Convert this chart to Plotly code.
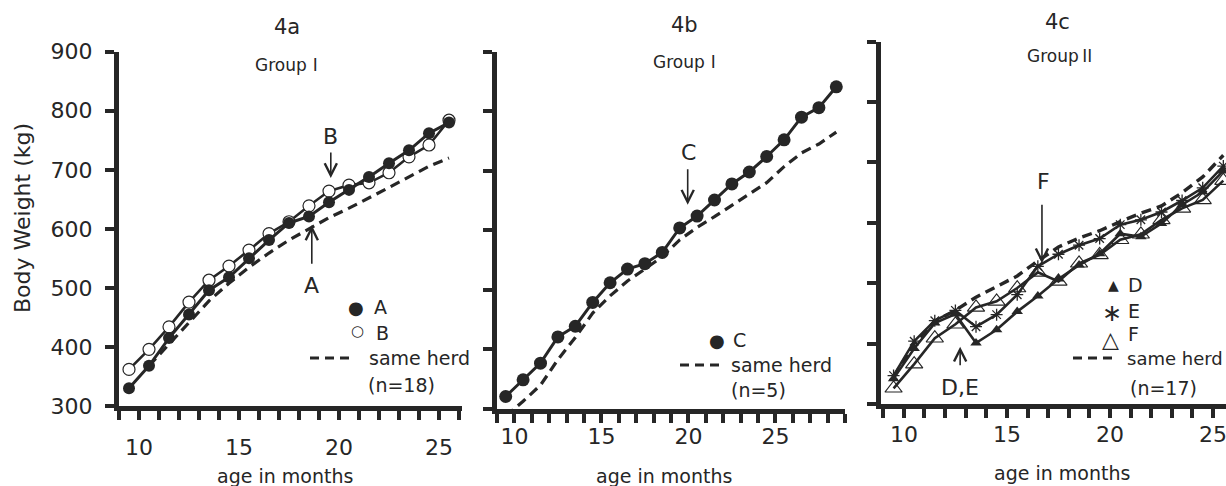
import plotly.graph_objects as go

# ---------------- data ----------------
months_a = [9.5, 10.5, 11.5, 12.5, 13.5, 14.5, 15.5, 16.5, 17.5, 18.5, 19.5, 20.5, 21.5, 22.5, 23.5, 24.5, 25.5]
cow_A = [330, 368, 415, 455, 496, 518, 550, 581, 610, 621, 645, 666, 688, 711, 733, 762, 780]
cow_B = [362, 396, 434, 476, 513, 537, 564, 592, 612, 639, 664, 674, 678, 695, 722, 742, 784]
herd_a_months = [10.5, 11.5, 12.5, 13.5, 14.5, 15.5, 16.5, 17.5, 18.5, 19.5, 20.5, 21.5, 22.5, 23.5, 24.5, 25.5]
herd_a = [368, 405, 443, 478, 508, 535, 559, 581, 600, 619, 635, 652, 670, 688, 706, 720]

months_b = [9.5, 10.5, 11.5, 12.5, 13.5, 14.5, 15.5, 16.5, 17.5, 18.5, 19.5, 20.5, 21.5, 22.5, 23.5, 24.5, 25.5, 26.5, 27.5, 28.5]
cow_C = [321, 349, 377, 421, 439, 479, 512, 535, 544, 563, 604, 624, 651, 678, 698, 724, 752, 790, 806, 841]
herd_b = [288, 313, 340, 383, 420, 461, 490, 515, 535, 556, 584, 605, 623, 642, 660, 680, 707, 730, 745, 765]

months_c = [9.5, 10.5, 11.5, 12.5, 13.5, 14.5, 15.5, 16.5, 17.5, 18.5, 19.5, 20.5, 21.5, 22.5, 23.5, 24.5, 25.5]
cow_D = [342, 392, 434, 449, 401, 423, 453, 479, 507, 530, 549, 582, 577, 599, 630, 651, 686]
cow_E = [347, 404, 438, 455, 428, 448, 481, 528, 548, 563, 574, 597, 605, 618, 637, 658, 694]
cow_F = [326, 366, 409, 432, 460, 470, 492, 518, 503, 533, 547, 572, 581, 605, 624, 638, 670]
herd_c = [345, 400, 437, 455, 477, 494, 512, 537, 560, 575, 587, 602, 616, 628, 650, 676, 712]

y_ticks = [300, 400, 500, 600, 700, 800, 900]
x_label_vals = [10, 15, 20, 25]
ticks_a = list(range(9, 27))
ticks_b = list(range(9, 30))
ticks_c = list(range(9, 26))

# ---------------- style ----------------
INK = "#262626"
FONT = "DejaVu Sans"
W, H = 1226, 486


def px(x):
    return x / W


def py(y):
    return 1 - y / H


def labels_for(vals):
    return [str(v) if v in x_label_vals else "" for v in vals]


fig = go.Figure()

# panel a
fig.add_trace(go.Scatter(x=herd_a_months, y=herd_a, mode="lines", xaxis="x", yaxis="y",
                         line=dict(color=INK, width=3.2, dash="10px,6px"), showlegend=False))
fig.add_trace(go.Scatter(x=months_a, y=cow_B, mode="lines+markers", xaxis="x", yaxis="y",
                         line=dict(color=INK, width=2.6),
                         marker=dict(symbol="circle", size=12, color="white", line=dict(color=INK, width=1.2)),
                         showlegend=False))
fig.add_trace(go.Scatter(x=months_a, y=cow_A, mode="lines+markers", xaxis="x", yaxis="y",
                         line=dict(color=INK, width=3), marker=dict(symbol="circle", size=12, color=INK),
                         showlegend=False))

# panel b
fig.add_trace(go.Scatter(x=months_b, y=herd_b, mode="lines", xaxis="x2", yaxis="y2",
                         line=dict(color=INK, width=3.2, dash="10px,6px"), showlegend=False))
fig.add_trace(go.Scatter(x=months_b, y=cow_C, mode="lines+markers", xaxis="x2", yaxis="y2",
                         line=dict(color=INK, width=3), marker=dict(symbol="circle", size=13, color=INK),
                         showlegend=False))

# panel c
fig.add_trace(go.Scatter(x=months_c, y=herd_c, mode="lines", xaxis="x3", yaxis="y3",
                         line=dict(color=INK, width=3.4, dash="10px,6px"), showlegend=False))
fig.add_trace(go.Scatter(x=months_c, y=cow_F, mode="lines+markers", xaxis="x3", yaxis="y3",
                         line=dict(color=INK, width=2.6),
                         marker=dict(symbol="triangle-up-open", size=15, color=INK, line=dict(width=1.1)),
                         showlegend=False))
fig.add_trace(go.Scatter(x=months_c, y=cow_E, mode="lines+markers", xaxis="x3", yaxis="y3",
                         line=dict(color=INK, width=2.6),
                         marker=dict(symbol="asterisk-open", size=10, color=INK, line=dict(width=1.3, color=INK)),
                         showlegend=False))
fig.add_trace(go.Scatter(x=months_c, y=cow_D, mode="lines+markers", xaxis="x3", yaxis="y3",
                         line=dict(color=INK, width=2.6),
                         marker=dict(symbol="triangle-up", size=10, color=INK),
                         showlegend=False))


def xax(domain, rng, vals, standoff, anchor):
    return dict(domain=domain, range=rng, anchor=anchor, showline=True, linecolor=INK, linewidth=5,
                ticks="outside", ticklen=9, tickwidth=4, tickcolor=INK,
                tickmode="array", tickvals=vals, ticktext=labels_for(vals),
                tickfont=dict(family=FONT, size=22, color=INK), ticklabelstandoff=standoff,
                ticklabeloverflow="allow",
                showgrid=False, zeroline=False, fixedrange=True, automargin=False)


def yax(domain, anchor, show_labels):
    return dict(domain=domain, range=[300, 900], anchor=anchor, showline=True, linecolor=INK, linewidth=5,
                ticks="outside", ticklen=9, tickwidth=4, tickcolor=INK,
                tickmode="array", tickvals=y_ticks, showticklabels=show_labels,
                tickfont=dict(family=FONT, size=22, color=INK), ticklabelstandoff=8,
                showgrid=False, zeroline=False, fixedrange=True, automargin=False)


fig.update_layout(
    width=W, height=H, margin=dict(l=0, r=0, t=0, b=0, autoexpand=False),
    paper_bgcolor="white", plot_bgcolor="white",
    font=dict(family=FONT, color=INK),
    xaxis=xax([px(119), px(462)], [9.0, 26.15], ticks_a, 9, "y"),
    yaxis=yax([py(406), py(51.7)], "x", True),
    xaxis2=xax([px(497), px(845)], [9.0, 29.0], ticks_b, -5, "y2"),
    yaxis2=yax([py(409), py(51.7)], "x2", False),
    xaxis3=xax([px(881), 1.0], [8.89, 25.63], ticks_c, -2, "y3"),
    yaxis3=yax([py(404), py(41.7)], "x3", False),
)

ann = []


def text(x, y, s, size=19, xanchor="center", angle=0):
    ann.append(dict(x=px(x), y=py(y), xref="paper", yref="paper", text=s, showarrow=False,
                    xanchor=xanchor, yanchor="middle", textangle=angle,
                    font=dict(family=FONT, size=size, color=INK)))


def arrow(xr, yr, xv, yv, ay):
    ann.append(dict(x=xv, y=yv, xref=xr, yref=yr, text="", showarrow=True, ax=0, ay=ay,
                    arrowhead=5, arrowsize=1.5, arrowwidth=1.6, arrowcolor=INK, standoff=0))


ROMAN = "<span style='font-family:Noto Sans CJK JP'>{}</span>"

# titles
text(287, 27, "4a", 21)
text(685, 25, "4b", 21)
text(1057, 22, "4c", 21)
text(289, 63, "Group" + ROMAN.format("\u2160"), 17)
text(687, 60, "Group" + ROMAN.format("\u2160"), 17)
text(1061, 55, "Group" + ROMAN.format("\u2161"), 17)

# axis titles
text(22, 218, "Body Weight (kg)", 22, angle=-90)
text(285, 476, "age in months", 19)
text(664, 476, "age in months", 19)
text(1062, 473, "age in months", 19)

# arrows and labels
arrow("x", "y", 19.59, 686, -27)
text(330, 136, "B", 22)
arrow("x", "y", 18.64, 606, 40)
text(311, 285, "A", 22)
arrow("x2", "y2", 19.96, 643, -37)
text(688, 152, "C", 22)
arrow("x3", "y3", 16.7, 533, -60)
text(1043, 182, "F", 22)
arrow("x3", "y3", 12.73, 395, 20)
text(960, 387, "D,E", 22)

# legend a
text(356, 307, "\u25cf", 18)
text(372, 307, "A", 19, "left")
text(357, 331, "\u25cb", 15)
text(374, 333, "B", 19, "left")
text(367, 358, "same herd", 19, "left")
text(366, 385, "(n=18)", 19, "left")
# legend b
text(717, 340, "\u25cf", 18)
text(731, 340, "C", 19, "left")
text(729, 365, "same herd", 19, "left")
text(729, 390, "(n=5)", 19, "left")
# legend c
text(1113, 285, "\u25b2", 14)
text(1126, 285, "D", 19, "left")
text(1112, 313, "\u2217", 24)
text(1126, 311, "E", 19, "left")
text(1110, 339, "\u25b3", 22)
text(1126, 334, "F", 19, "left")
text(1125, 358, "same herd", 18, "left")
text(1128, 388, "(n=17)", 19, "left")

fig.update_layout(annotations=ann)

shapes = []
for x0, x1, y in [(310, 352, 358), (680, 722, 365), (1073, 1117, 358)]:
    shapes.append(dict(type="line", xref="paper", yref="paper", x0=px(x0), x1=px(x1), y0=py(y), y1=py(y),
                       line=dict(color=INK, width=3, dash="9px,6px")))
fig.update_layout(shapes=shapes)

fig.write_html("out.html", config={"displayModeBar": False},
               post_script="document.body.style.margin='0';document.body.style.overflow='hidden';")
